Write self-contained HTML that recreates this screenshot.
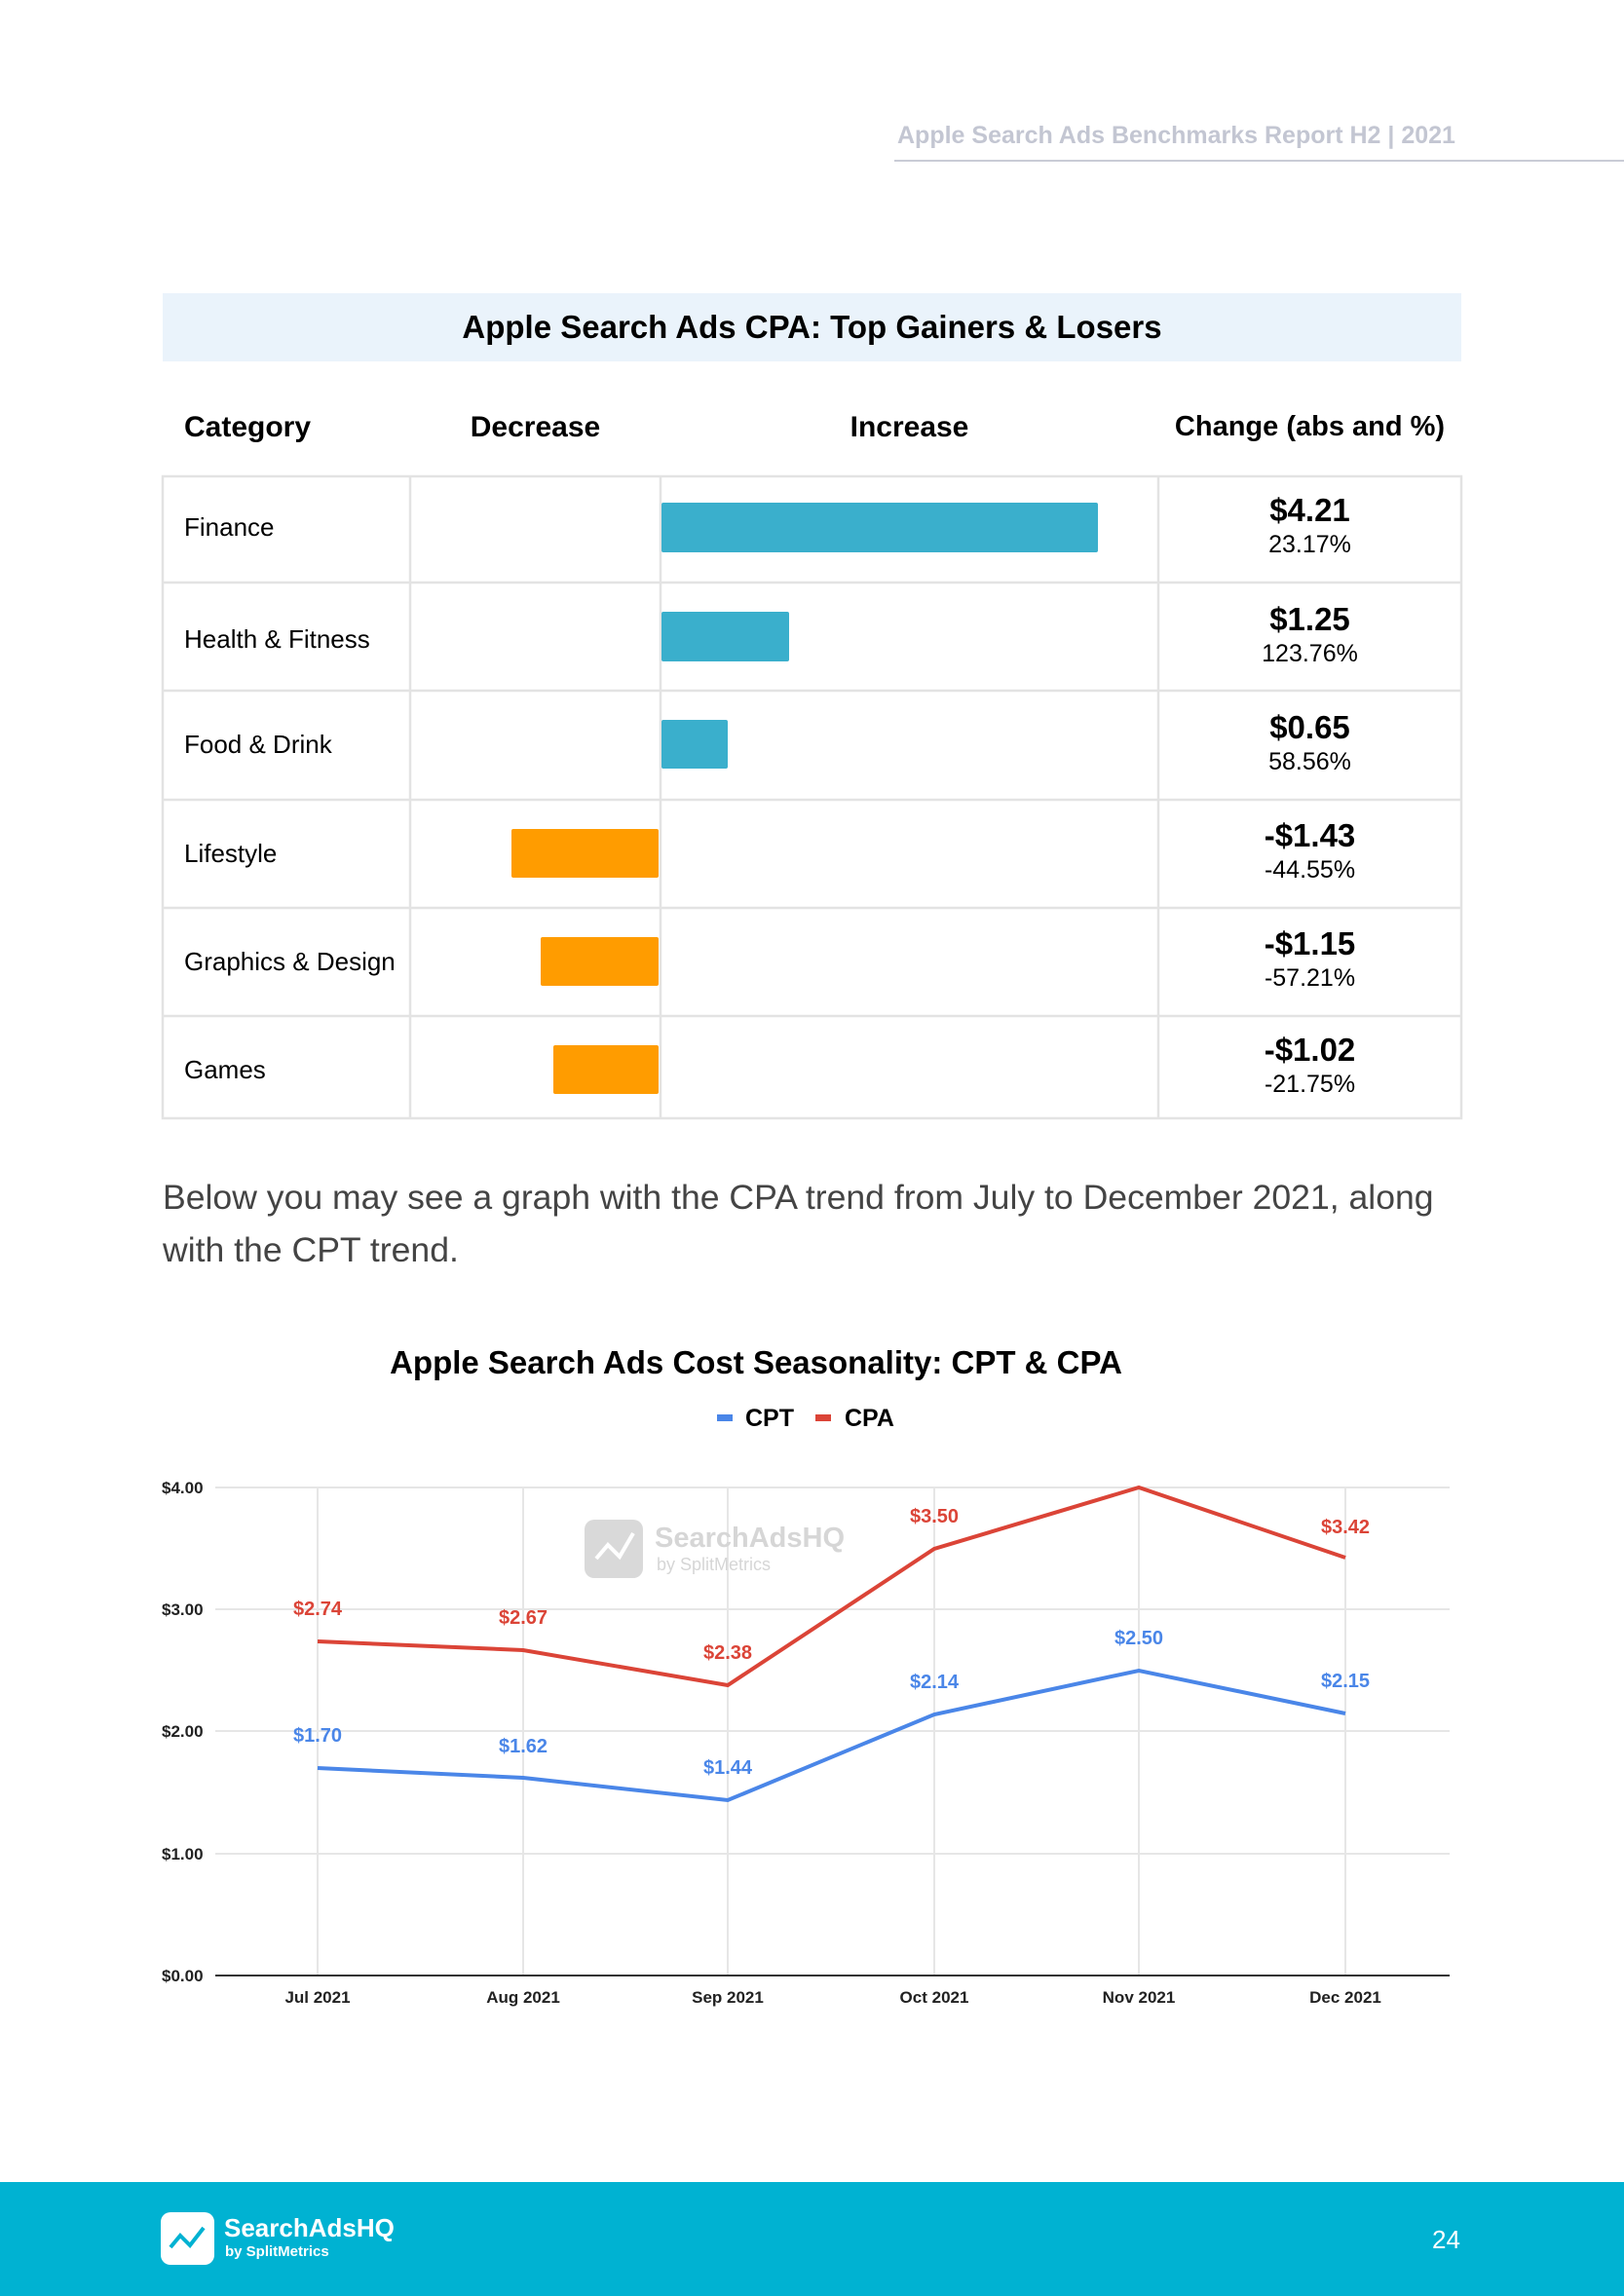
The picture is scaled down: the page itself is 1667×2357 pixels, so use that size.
<!DOCTYPE html>
<html><head><meta charset="utf-8"><style>
body{margin:0;width:1667px;height:2357px;position:relative;background:#fff;font-family:"Liberation Sans",Arial,sans-serif;overflow:hidden}
.a{position:absolute}
.hd{font-weight:bold;font-size:30px;color:#000;top:422px}
.cell{position:absolute;font-size:26px;color:#000}
.val{position:absolute;width:311px;left:1189px;text-align:center}
.val b{display:block;font-size:33px}
.val span{display:block;font-size:25px;margin-top:2px}
</style></head><body>
<div class="a" style="left:921px;top:125px;font-size:25px;font-weight:bold;color:#c3c6d2">Apple Search Ads Benchmarks Report H2 | 2021</div>
<div class="a" style="left:918px;top:164px;width:749px;height:2px;background:#c9ccd6"></div>

<div class="a" style="left:167px;top:301px;width:1333px;height:70px;background:#eaf3fb;text-align:center;line-height:70px;font-size:33px;font-weight:bold">Apple Search Ads CPA: Top Gainers &amp; Losers</div>

<div class="a hd" style="left:189px">Category</div>
<div class="a hd" style="left:421px;width:257px;text-align:center">Decrease</div>
<div class="a hd" style="left:678px;width:511px;text-align:center">Increase</div>
<div class="a hd" style="left:1189px;width:311px;text-align:center;font-size:29px">Change (abs and %)</div>

<svg class="a" style="left:0;top:0" width="1667" height="1200">
<g stroke="#e3e3e3" stroke-width="2.5" fill="none">
<rect x="167" y="489" width="1333" height="659"/>
<line x1="421" y1="489" x2="421" y2="1148"/><line x1="678" y1="489" x2="678" y2="1148"/><line x1="1189" y1="489" x2="1189" y2="1148"/>
<line x1="167" y1="598" x2="1500" y2="598"/><line x1="167" y1="709" x2="1500" y2="709"/><line x1="167" y1="821" x2="1500" y2="821"/><line x1="167" y1="932" x2="1500" y2="932"/><line x1="167" y1="1043" x2="1500" y2="1043"/>
</g>
<g fill="#3aafcc"><rect x="679" y="516" width="448" height="51" rx="2"/><rect x="679" y="628" width="131" height="51" rx="2"/><rect x="679" y="739" width="68" height="50" rx="2"/></g>
<g fill="#ff9c00"><rect x="525" y="851" width="151" height="50" rx="2"/><rect x="555" y="962" width="121" height="50" rx="2"/><rect x="568" y="1073" width="108" height="50" rx="2"/></g>
</svg>

<div class="cell" style="left:189px;top:526px">Finance</div>
<div class="cell" style="left:189px;top:641px">Health &amp; Fitness</div>
<div class="cell" style="left:189px;top:749px">Food &amp; Drink</div>
<div class="cell" style="left:189px;top:861px">Lifestyle</div>
<div class="cell" style="left:189px;top:972px">Graphics &amp; Design</div>
<div class="cell" style="left:189px;top:1083px">Games</div>

<div class="val" style="top:505px"><b>$4.21</b><span>23.17%</span></div>
<div class="val" style="top:617px"><b>$1.25</b><span>123.76%</span></div>
<div class="val" style="top:728px"><b>$0.65</b><span>58.56%</span></div>
<div class="val" style="top:839px"><b>-$1.43</b><span>-44.55%</span></div>
<div class="val" style="top:950px"><b>-$1.15</b><span>-57.21%</span></div>
<div class="val" style="top:1059px"><b>-$1.02</b><span>-21.75%</span></div>

<div class="a" style="left:167px;top:1202px;width:1360px;font-size:35.6px;line-height:54px;color:#444">Below you may see a graph with the CPA trend from July to December 2021, along with the CPT trend.</div>

<div class="a" style="left:300px;top:1380px;width:952px;text-align:center;font-size:33px;font-weight:bold">Apple Search Ads Cost Seasonality: CPT &amp; CPA</div>

<svg class="a" style="left:0;top:1420px" width="1667" height="680" font-family="Liberation Sans,Arial,sans-serif">
<g transform="translate(0,-1420)">
<rect x="736" y="1452" width="16" height="7" fill="#4a86e8"/><text x="765" y="1464" font-size="25" font-weight="bold">CPT</text>
<rect x="837" y="1452" width="16" height="7" fill="#db4437"/><text x="867" y="1464" font-size="25" font-weight="bold">CPA</text>
<g stroke="#e6e6e6" stroke-width="2">
<line x1="221" y1="1527" x2="1488" y2="1527"/><line x1="221" y1="1652" x2="1488" y2="1652"/><line x1="221" y1="1777" x2="1488" y2="1777"/><line x1="221" y1="1903" x2="1488" y2="1903"/>
<line x1="326" y1="1527" x2="326" y2="2028"/><line x1="537" y1="1527" x2="537" y2="2028"/><line x1="747" y1="1527" x2="747" y2="2028"/><line x1="959" y1="1527" x2="959" y2="2028"/><line x1="1169" y1="1527" x2="1169" y2="2028"/><line x1="1381" y1="1527" x2="1381" y2="2028"/>
</g>
<line x1="221" y1="2028" x2="1488" y2="2028" stroke="#333" stroke-width="2"/>
<g font-size="17" font-weight="bold" fill="#222">
<text x="166" y="1533">$4.00</text><text x="166" y="1658">$3.00</text><text x="166" y="1783">$2.00</text><text x="166" y="1909">$1.00</text><text x="166" y="2034">$0.00</text>
</g>
<g font-size="17" font-weight="bold" fill="#222" text-anchor="middle">
<text x="326" y="2056">Jul 2021</text><text x="537" y="2056">Aug 2021</text><text x="747" y="2056">Sep 2021</text><text x="959" y="2056">Oct 2021</text><text x="1169" y="2056">Nov 2021</text><text x="1381" y="2056">Dec 2021</text>
</g>
<rect x="600" y="1560" width="60" height="60" rx="10" fill="#d9d9d9"/>
<polyline points="612,1600 624,1586 636,1598 650,1574" fill="none" stroke="#fff" stroke-width="4"/>
<text x="672" y="1588" font-size="29" font-weight="bold" fill="#d6d6d6">SearchAdsHQ</text>
<text x="674" y="1612" font-size="18" fill="#d6d6d6">by SplitMetrics</text>
<polyline points="326,1685 537,1694 747,1730 959,1590 1169,1527 1381,1599" fill="none" stroke="#db4437" stroke-width="4"/>
<polyline points="326,1815 537,1825 747,1848 959,1760 1169,1715 1381,1759" fill="none" stroke="#4a86e8" stroke-width="4"/>
<g font-size="20" font-weight="bold" fill="#db4437" text-anchor="middle">
<text x="326" y="1658">$2.74</text><text x="537" y="1667">$2.67</text><text x="747" y="1703">$2.38</text><text x="959" y="1563">$3.50</text><text x="1381" y="1574">$3.42</text>
</g>
<g font-size="20" font-weight="bold" fill="#4a86e8" text-anchor="middle">
<text x="326" y="1788">$1.70</text><text x="537" y="1799">$1.62</text><text x="747" y="1821">$1.44</text><text x="959" y="1733">$2.14</text><text x="1169" y="1688">$2.50</text><text x="1381" y="1732">$2.15</text>
</g>
</g></svg>

<div class="a" style="left:0;top:2240px;width:1667px;height:117px;background:#00b2d2"></div>
<div class="a" style="left:165px;top:2271px;width:55px;height:54px;border-radius:10px;background:#fff"></div>
<svg class="a" style="left:165px;top:2271px" width="55" height="54"><polyline points="10,36 20,24 30,34 44,16" fill="none" stroke="#00b2d2" stroke-width="4"/></svg>
<div class="a" style="left:230px;top:2272px;color:#fff;font-weight:bold;font-size:26px">SearchAdsHQ</div>
<div class="a" style="left:231px;top:2303px;color:#fff;font-weight:bold;font-size:15px">by SplitMetrics</div>
<div class="a" style="left:1470px;top:2284px;color:#fff;font-size:26px">24</div>
</body></html>
